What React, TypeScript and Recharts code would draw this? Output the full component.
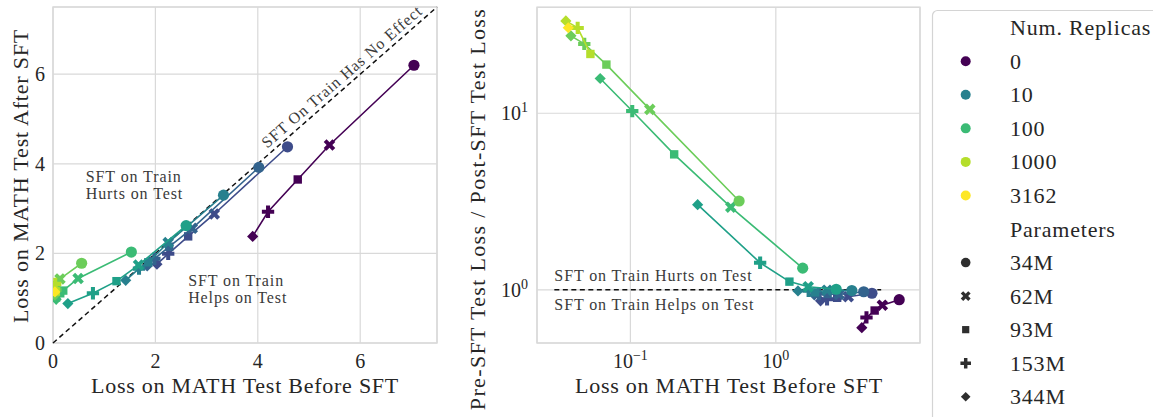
import React from "react";
import {
  ScatterChart,
  Scatter,
  XAxis,
  YAxis,
  CartesianGrid,
  ReferenceLine,
  ReferenceArea,
  ReferenceDot,
} from "recharts";

const FONT = "'Liberation Serif', 'DejaVu Serif', serif";
const TEXT = "#262626";
const ANNOT = "#3a3a3a";
const GRID = "#d9d9d9";

// model sizes and their marker kinds
const sizes = ["34M", "62M", "93M", "153M", "344M"];
const markerKinds = ["circle", "x", "square", "plus", "diamond"];

// number of replicas per series and colours (viridis)
const replicaCounts = [0, 1, 3, 10, 32, 100, 316, 1000, 3162];
const replicaColors = ["#440154", "#3e4c8a", "#33638d", "#27808e", "#1fa088", "#3bbb75", "#6ccd5a", "#b5de2b", "#fde725"];

// loss on MATH test before / after SFT, per replica count, order 34M..344M
const preR0 = [7.05, 5.4, 4.78, 4.2, 3.9];
const postR0 = [6.2, 4.42, 3.65, 2.93, 2.38];
const preR1 = [4.58, 3.15, 2.64, 2.25, 2.03];
const postR1 = [4.38, 2.88, 2.38, 1.99, 1.76];
const preR3 = [4.02, 2.72, 2.27, 1.98, 1.84];
const postR3 = [3.92, 2.56, 2.15, 1.88, 1.72];
const preR10 = [3.33, 2.25, 1.86, 1.68, 1.42];
const postR10 = [3.3, 2.24, 1.8, 1.66, 1.4];
const preR32 = [2.6, 1.67, 1.24, 0.78, 0.29];
const postR32 = [2.62, 1.74, 1.38, 1.11, 0.88];
const preR100 = [1.53, 0.49, 0.2, 0.103, 0.062];
const postR100 = [2.03, 1.44, 1.17, 1.06, 0.975];
const preR316 = [0.559, 0.136, 0.0684, 0.0482, 0.039];
const postR316 = [1.78, 1.43, 1.29, 1.19, 1.07];
const preR1000 = [null, null, 0.0531, 0.0434, 0.036];
const postR1000 = [null, null, 1.15, 1.32, 1.2];
const preR3162 = [null, null, null, null, 0.0374];
const postR3162 = [null, null, null, null, 1.14];

const preByGroup = [preR0, preR1, preR3, preR10, preR32, preR100, preR316, preR1000, preR3162];
const postByGroup = [postR0, postR1, postR3, postR10, postR32, postR100, postR316, postR1000, postR3162];

// axis ticks
const leftTicks = [0, 2, 4, 6];
const rightXTicks = [0.1, 1];
const rightYTicks = [1, 10];
const logTickLabels: Record<string, string> = { "0.1": "−1", "1": "0", "10": "1" };

// legend
const legendReplicas = [0, 10, 100, 1000, 3162];
const legendReplicaColors = ["#440154", "#27808e", "#3bbb75", "#b5de2b", "#fde725"];

type Pt = { size: string; kind: string; pre: number; post: number; ratio: number };

const series = replicaCounts.map((r, gi) => {
  const pts: Pt[] = [];
  sizes.forEach((s, i) => {
    const pre = preByGroup[gi][i];
    const post = postByGroup[gi][i];
    if (pre != null && post != null) {
      pts.push({ size: s, kind: markerKinds[i], pre, post, ratio: post / pre });
    }
  });
  pts.sort((a, b) => a.pre - b.pre);
  return { r, color: replicaColors[gi], pts };
});

function Marker({ cx, cy, kind, color, s }: { cx: number; cy: number; kind: string; color: string; s: number }) {
  if (kind === "circle") return <circle cx={cx} cy={cy} r={s} fill={color} />;
  if (kind === "square") {
    const h = s * 0.75;
    return <rect x={cx - h} y={cy - h} width={2 * h} height={2 * h} fill={color} />;
  }
  if (kind === "diamond") {
    const d = s * 1.0;
    return <polygon points={`${cx},${cy - d} ${cx + d},${cy} ${cx},${cy + d} ${cx - d},${cy}`} fill={color} />;
  }
  const a = s * 1.1;
  const b = s * 0.36;
  const base = [
    [b, a], [b, b], [a, b], [a, -b], [b, -b], [b, -a],
    [-b, -a], [-b, -b], [-a, -b], [-a, b], [-b, b], [-b, a],
  ];
  const ang = kind === "x" ? Math.PI / 4 : 0;
  const pts = base
    .map(([x, y]) => {
      const rx = x * Math.cos(ang) - y * Math.sin(ang);
      const ry = x * Math.sin(ang) + y * Math.cos(ang);
      return `${cx + rx},${cy + ry}`;
    })
    .join(" ");
  return <polygon points={pts} fill={color} />;
}

const LeftXTick = (p: any) => (
  <text x={p.x} y={p.y + 25} textAnchor="middle" fontFamily={FONT} fontSize={20} fill={TEXT}>
    {p.payload.value}
  </text>
);
const LeftYTick = (p: any) => (
  <text x={p.x - 8} y={p.y + 7} textAnchor="end" fontFamily={FONT} fontSize={20} fill={TEXT}>
    {p.payload.value}
  </text>
);
const RightXTick = (p: any) => (
  <text x={p.x} y={p.y + 25} textAnchor="middle" fontFamily={FONT} fontSize={20} fill={TEXT}>
    <tspan>10</tspan>
    <tspan dy={-8} fontSize={14}>{logTickLabels[String(p.payload.value)]}</tspan>
  </text>
);
const RightYTick = (p: any) => (
  <text x={p.x - 9} y={p.y + 7} textAnchor="end" fontFamily={FONT} fontSize={20} fill={TEXT}>
    <tspan>10</tspan>
    <tspan dy={-8} fontSize={14}>{logTickLabels[String(p.payload.value)]}</tspan>
  </text>
);

const textDot = (lines: string[], opts: { size?: number; anchor?: string; rotate?: number; lh?: number; ls?: number }) =>
  (p: any) => (
    <g>
      {lines.map((t, i) => (
        <text
          key={i}
          x={p.cx}
          y={p.cy + i * (opts.lh ?? 17)}
          textAnchor={opts.anchor ?? "start"}
          dominantBaseline={opts.rotate ? "central" : "auto"}
          transform={opts.rotate ? `rotate(${opts.rotate}, ${p.cx}, ${p.cy})` : undefined}
          fontFamily={FONT}
          fontSize={opts.size ?? 16}
          letterSpacing={opts.ls ?? 0.9}
          fill={ANNOT}
        >
          {t}
        </text>
      ))}
    </g>
  );

function LeftChart() {
  return (
    <ScatterChart width={440} height={417} margin={{ top: 7, right: 3, bottom: 0, left: 0 }}>
      <CartesianGrid stroke={GRID} strokeWidth={1.2} />
      <XAxis
        type="number"
        dataKey="pre"
        domain={[0, 7.5]}
        ticks={leftTicks}
        allowDataOverflow
        tickLine={false}
        axisLine={false}
        tickSize={0}
        tickMargin={0}
        height={74}
        tick={<LeftXTick />}
        label={() => (
          <text x={245} y={393} textAnchor="middle" fontFamily={FONT} fontSize={22} letterSpacing={0.75} fill={TEXT}>
            Loss on MATH Test Before SFT
          </text>
        )}
      />
      <YAxis
        type="number"
        dataKey="post"
        domain={[0, 7.5]}
        ticks={leftTicks}
        allowDataOverflow
        tickLine={false}
        axisLine={false}
        tickSize={0}
        tickMargin={0}
        width={53}
        tick={<LeftYTick />}
        label={() => (
          <text
            x={27.5}
            y={176}
            textAnchor="middle"
            transform="rotate(-90, 27.5, 176)"
            fontFamily={FONT}
            fontSize={22}
            letterSpacing={0.8}
            fill={TEXT}
          >
            Loss on MATH Test After SFT
          </text>
        )}
      />
      <ReferenceArea x1={0} x2={7.5} y1={0} y2={7.5} fill="none" stroke={GRID} strokeWidth={1.4} />
      {series.map((s) => (
        <Scatter
          key={s.r}
          data={s.pts}
          isAnimationActive={false}
          line={{ stroke: s.color, strokeWidth: 1.6 }}
          lineJointType="linear"
          shape={(p: any) => <Marker cx={p.cx} cy={p.cy} kind={p.payload.kind} color={s.color} s={5.6} />}
        />
      ))}
      <ReferenceLine
        segment={[{ x: 0, y: 0 }, { x: 7.5, y: 7.5 }]}
        stroke="#111"
        strokeWidth={1.5}
        strokeDasharray="5 3.5"
      />
      <ReferenceDot x={0.64} y={3.59} r={0} shape={textDot(["SFT on Train", "Hurts on Test"], {})} />
      <ReferenceDot x={2.64} y={1.27} r={0} shape={textDot(["SFT on Train", "Helps on Test"], {})} />
      <ReferenceDot
        x={5.64}
        y={5.95}
        r={0}
        shape={textDot(["SFT On Train Has No Effect"], { anchor: "middle", rotate: -41.1, ls: 0.9 })}
      />
    </ScatterChart>
  );
}

function RightChart() {
  return (
    <ScatterChart width={463} height={417} margin={{ top: 7.3, right: 3, bottom: 0, left: 0 }}>
      <CartesianGrid stroke={GRID} strokeWidth={1.2} />
      <XAxis
        type="number"
        dataKey="pre"
        scale="log"
        domain={[0.0228, 9.8]}
        ticks={rightXTicks}
        allowDataOverflow
        tickLine={false}
        axisLine={false}
        tickSize={0}
        tickMargin={0}
        height={74}
        tick={<RightXTick />}
        label={() => (
          <text x={269} y={393} textAnchor="middle" fontFamily={FONT} fontSize={22} letterSpacing={0.75} fill={TEXT}>
            Loss on MATH Test Before SFT
          </text>
        )}
      />
      <YAxis
        type="number"
        dataKey="ratio"
        scale="log"
        domain={[0.5, 39.8]}
        ticks={rightYTicks}
        allowDataOverflow
        tickLine={false}
        axisLine={false}
        tickSize={0}
        tickMargin={0}
        width={77}
        tick={<RightYTick />}
        label={() => (
          <text
            x={25}
            y={209}
            textAnchor="middle"
            transform="rotate(-90, 25, 209)"
            fontFamily={FONT}
            fontSize={22}
            letterSpacing={1.35}
            fill={TEXT}
          >
            Pre-SFT Test Loss / Post-SFT Test Loss
          </text>
        )}
      />
      <ReferenceArea x1={0.0228} x2={9.8} y1={0.5} y2={39.8} fill="none" stroke={GRID} strokeWidth={1.4} />
      {series.map((s) => (
        <Scatter
          key={s.r}
          data={s.pts}
          isAnimationActive={false}
          line={{ stroke: s.color, strokeWidth: 1.6 }}
          lineJointType="linear"
          shape={(p: any) => <Marker cx={p.cx} cy={p.cy} kind={p.payload.kind} color={s.color} s={5.6} />}
        />
      ))}
      <ReferenceLine
        segment={[{ x: 0.03, y: 1 }, { x: 5.3, y: 1 }]}
        stroke="#111"
        strokeWidth={1.5}
        strokeDasharray="5 3.5"
      />
      <ReferenceDot x={0.03} y={1.125} r={0} shape={textDot(["SFT on Train Hurts on Test"], {})} />
      <ReferenceDot x={0.03} y={0.764} r={0} shape={textDot(["SFT on Train Helps on Test"], {})} />
    </ScatterChart>
  );
}

function LegendPanel() {
  const mx = 40.7;
  const tx = 85;
  const row = (i: number) => 27.7 + 33.55 * i;
  const txt = (t: string, y: number, key: string) => (
    <text key={key} x={tx} y={y + 7.5} fontFamily={FONT} fontSize={22} letterSpacing={0.8} fill={TEXT}>
      {t}
    </text>
  );
  return (
    <svg width={228} height={417} style={{ position: "absolute", left: 925, top: 0 }}>
      <rect x={7.5} y={10.5} width={260} height={430} rx={5} fill="#fff" stroke="#d4d4d4" strokeWidth={1.2} />
      {txt("Num. Replicas", row(0), "t1")}
      {legendReplicas.map((r, i) => (
        <g key={"r" + r}>
          <circle cx={mx} cy={row(1 + i)} r={5} fill={legendReplicaColors[i]} />
          {txt(String(r), row(1 + i), "rt" + r)}
        </g>
      ))}
      {txt("Parameters", row(6), "t2")}
      {sizes.map((s, i) => (
        <g key={"s" + s}>
          <Marker cx={mx} cy={row(7 + i)} kind={markerKinds[i]} color="#2e2e2e" s={4.8} />
          {txt(s, row(7 + i), "st" + s)}
        </g>
      ))}
    </svg>
  );
}

export default function App() {
  return (
    <div style={{ position: "fixed", left: 0, top: 0, width: 1153, height: 417, background: "#fff", overflow: "hidden" }}>
      <div style={{ position: "absolute", left: 0, top: 0 }}>
        <LeftChart />
      </div>
      <div style={{ position: "absolute", left: 460, top: 0 }}>
        <RightChart />
      </div>
      <LegendPanel />
    </div>
  );
}
